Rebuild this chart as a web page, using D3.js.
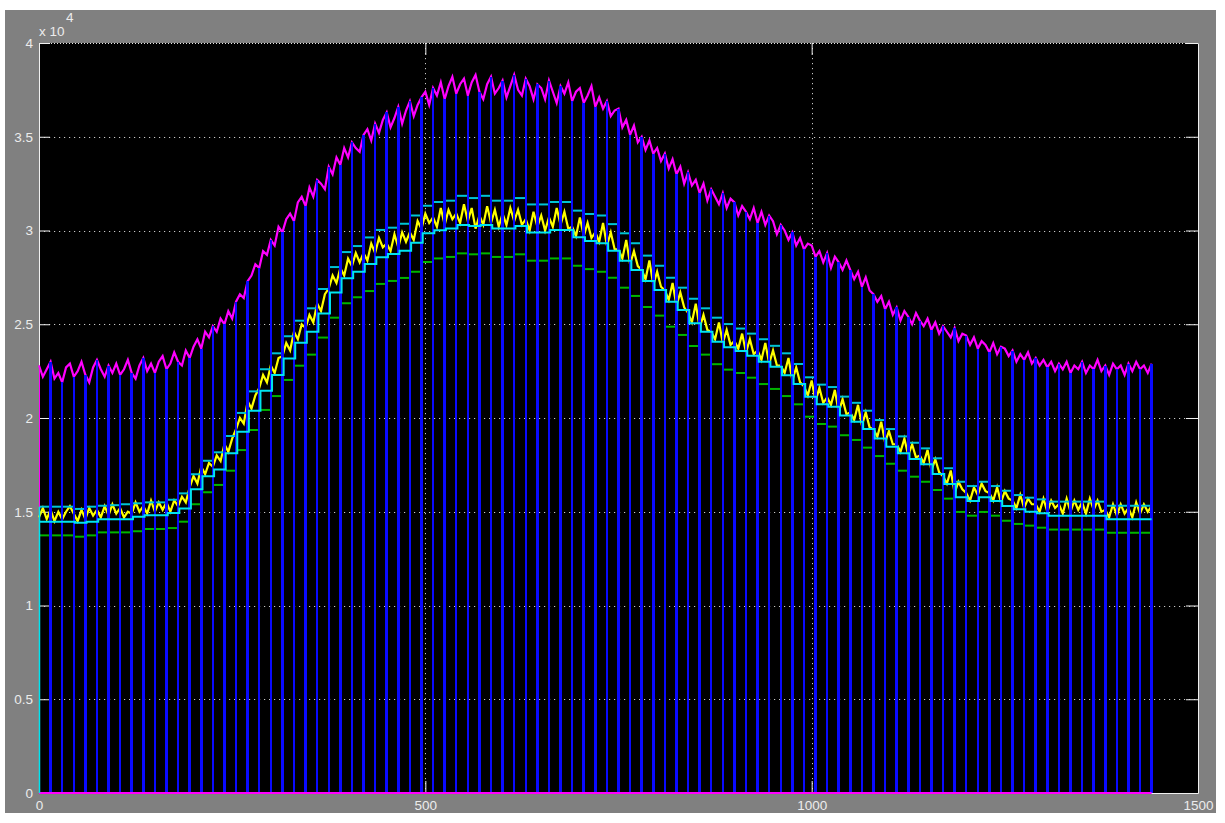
<!DOCTYPE html>
<html><head><meta charset="utf-8">
<script src="https://cdn.jsdelivr.net/npm/d3@7"></script>
<style>html,body{margin:0;padding:0;background:#fff;}svg{display:block;}</style>
</head><body>
<svg id="chart" width="1225" height="823"></svg>
<script>
// ---- data (values in hundreds; multiplied by VALUE_UNIT) ----
const VALUE_UNIT = 100;
const BIN_WIDTH = 15;      // x-units per step bin
const SAMPLE_STEP = 5;     // x-units between noisy samples
const xTicks = [0, 500, 1000, 1500];
const yTicks = [0, 0.5, 1, 1.5, 2, 2.5, 3, 3.5, 4];   // x 10^4
const yExponent = "4";

const lowerCyan = [144.7,144.7,144.7,144.2,144.7,146,146,146,147.4,148.1,
 148.1,149.3,151.8,162,169,172.6,181.2,192.7,203.9,214.6,
 222.9,231.8,240.2,246,255.8,267,274.5,278,282.1,285.7,
 287.5,289.2,293.5,298.5,300.1,301.1,302.9,302.4,302.9,301.1,
 301.1,302.4,299,299,300.3,300.3,296.4,294.4,293.2,289.2,
 283.9,278.9,273.1,268.3,262,257.6,250.5,246,240.7,237.7,
 235.8,233.2,230,227.4,222.8,218.1,211.4,207.3,206,201.4,
 198,194.1,189.1,184.7,181.2,178.1,175.3,170.1,164.8,157.7,
 155.7,157.7,155.7,153.1,151.3,150,149.2,147.9,147.9,147.9,
 147.9,147.9,146,146,146,146];

const upperCyan = [152.7,152.7,152.7,151.5,152.7,153.2,153.5,154,154.5,155,
 155,156.4,159.8,170,177.2,181.7,190.4,202.7,214.2,226,
 234.5,243.6,251.9,258.5,268.8,280.5,288.5,291.7,296.3,300.3,
 301.5,303.6,308,313.2,315.2,315.9,318.5,317.3,318.5,315.9,
 315.9,317.3,313.9,313.9,315.2,315.2,310.6,308.8,308,303.4,
 298.5,293.2,286.6,281.2,274.8,269.5,263.6,258.5,253.5,250.1,
 247.7,245,242,238.5,234.5,228.8,221.7,217.8,216.5,211.4,
 208.1,203.9,198.9,194.1,190.2,186.8,183.8,178.5,173.2,166,
 163.7,166,163.7,161.2,158.9,157.5,156.6,155.4,155.4,155.4,
 155.4,155.4,153.2,153.2,153.2,153.2];

const greenLevel = [137.4,137.4,137.4,136.7,137.4,139,139,139,139.6,140.8,
 140.8,141.3,144.7,154,160.4,164.3,171.9,182.9,193.6,204.3,
 211.7,220.3,227.9,233.8,242.9,253.5,261.2,264.4,267.7,271.5,
 273.1,274.7,278,283.2,285.1,285.9,287.8,287.3,287.8,285.9,
 285.9,287.3,283.9,283.9,285.1,285.1,281.2,279.4,278,274.8,
 269.5,265.1,259.2,254.6,248.7,244.3,238.4,233.8,228.7,225.8,
 224,221.5,218.1,215.5,211.7,207.3,200.7,196.8,195.4,190.8,
 188.3,184.2,179.7,175.6,171.9,168.7,166,161.6,157,149.9,
 147.9,149.9,147.9,145.2,143.5,142.6,141.5,140.5,140.5,140.5,
 140.5,140.5,138.8,138.8,138.8,138.8];

const magenta = [228,222,226,230,221,224,219,227,229,222,
 225,230,223,219,227,231,226,222,228,224,
 229,223,226,231,224,221,228,232,225,229,
 224,230,233,226,229,235,230,228,236,232,
 238,242,237,246,243,249,246,253,250,257,
 253,262,266,264,273,276,282,280,289,287,
 295,292,302,299,306,309,305,315,318,313,
 323,318,327,325,322,334,330,339,335,344,
 339,347,344,342,351,354,348,357,352,359,
 363,355,360,366,357,364,369,361,367,371,
 374,367,376,372,379,370,377,382,373,378,
 381,372,379,383,374,370,378,382,373,376,
 380,371,377,383,375,372,381,377,370,378,
 376,370,380,374,368,377,373,379,369,374,
 376,368,372,377,366,371,365,369,361,364,
 365,355,359,351,356,347,350,343,348,341,
 344,337,341,333,338,330,334,325,331,324,
 327,320,325,316,322,318,314,320,312,317,
 315,308,313,310,306,312,304,310,303,308,
 305,298,303,300,295,299,292,296,290,293,
 292,286,289,283,288,280,286,283,279,284,
 279,274,278,270,275,268,266,262,265,258,
 262,255,259,252,257,254,250,256,252,249,
 253,247,251,245,249,246,243,248,241,245,
 244,239,243,237,241,239,235,240,234,238,
 237,233,236,230,234,231,235,229,232,228,
 231,227,230,225,229,226,230,224,228,226,
 230,224,228,226,231,225,228,223,229,226,
 228,223,229,225,230,226,228,224,229];

const yellow = [147,152,146, 151,145,150, 146,150,153, 149,145,151,
 146,152,148, 151,147,153, 148,154,149, 152,147,150,
 149,155,150, 153,149,156, 150,155,151, 155,150,156,
 153,158,155, 163,169,165, 174,170,176, 174,180,177,
 186,182,189, 194,200,197, 209,205,212, 216,223,219,
 228,224,232, 233,240,236, 246,242,250, 248,255,251,
 261,257,266, 269,276,272, 280,276,285, 281,288,283,
 288,284,293, 288,296,291, 293,289,298, 291,299,294,
 299,295,305, 301,309,304, 307,302,312, 303,311,306,
 309,304,314, 305,312,301, 308,303,313, 304,311,302,
 309,303,312, 305,311,303, 306,300,310, 302,308,300,
 307,302,312, 303,310,301, 302,297,307, 297,304,296,
 299,294,304, 292,299,290, 290,285,295, 282,289,281,
 279,274,284, 271,278,270, 268,263,272, 260,267,259,
 256,251,261, 248,255,247, 246,242,251, 240,247,239,
 241,237,245, 235,242,234, 236,231,240, 229,236,228,
 228,224,232, 220,227,219, 217,212,220, 209,216,208,
 211,207,215, 203,210,202, 203,199,207, 196,203,195,
 194,190,198, 187,193,186, 186,182,189, 180,186,179,
 180,176,183, 172,178,171, 169,165,172, 160,166,162,
 160,156,163, 159,165,161, 160,156,163, 155,161,157,
 156,152,159, 152,157,154, 154,150,157, 150,156,152,
 154,149,157, 150,156,151, 155,149,157, 151,156,150,
 151,147,154, 148,154,149, 152,147,155, 149,154,150,
 153];

// ---- layout ----
const svg = d3.select("#chart");
const plot = {left: 39, right: 1198, top: 43, bottom: 793};
const x = d3.scaleLinear().domain([0, 1500]).range([plot.left, plot.right]);
const y = d3.scaleLinear().domain([0, 40000]).range([plot.bottom, plot.top]);
const FONT = "'Liberation Sans', Arial, sans-serif";

svg.append("rect").attr("x", 5).attr("y", 10).attr("width", 1211).attr("height", 803).attr("fill", "#808080");
svg.append("rect").attr("x", plot.left).attr("y", plot.top)
  .attr("width", plot.right - plot.left).attr("height", plot.bottom - plot.top).attr("fill", "#000");

// grid
const grid = svg.append("g").attr("stroke", "#c8c8c8").attr("stroke-width", 1).attr("stroke-dasharray", "1.2,3.8");
grid.selectAll("line.h").data(yTicks.filter(t => t > 0 && t < 4)).join("line")
  .attr("x1", plot.left).attr("x2", plot.right)
  .attr("y1", d => Math.round(y(d * 1e4)) + 0.5).attr("y2", d => Math.round(y(d * 1e4)) + 0.5);
grid.selectAll("line.v").data(xTicks.filter(t => t > 0 && t < 1500)).join("line")
  .attr("y1", plot.top).attr("y2", plot.bottom)
  .attr("x1", d => Math.round(x(d)) + 0.5).attr("x2", d => Math.round(x(d)) + 0.5);
svg.append("line").attr("x1", plot.left).attr("x2", plot.right).attr("y1", plot.top + 0.5).attr("y2", plot.top + 0.5)
  .attr("stroke", "#e8e8e8").attr("stroke-dasharray", "1,2");

// axes
function styleAxis(g) {
  g.selectAll(".domain").attr("stroke", "#f0f0f0");
  g.selectAll(".tick line").attr("stroke", "#f0f0f0");
  g.selectAll(".tick text").attr("fill", "#ececec").attr("font-family", FONT).attr("font-size", 13.5);
}
svg.append("g").attr("transform", `translate(0,${plot.bottom})`)
  .call(d3.axisBottom(x).tickValues(xTicks).tickSizeInner(-12).tickSizeOuter(0).tickPadding(7).tickFormat(d3.format("d")))
  .call(styleAxis);
svg.append("g").attr("transform", `translate(${plot.left},0)`)
  .call(d3.axisLeft(y).tickValues(yTicks.map(t => t * 1e4)).tickSizeInner(-11).tickSizeOuter(0).tickPadding(6).tickFormat(d => String(d / 1e4)))
  .call(styleAxis);
svg.append("g").attr("transform", `translate(${plot.right},0)`)
  .call(d3.axisRight(y).tickValues(yTicks.map(t => t * 1e4)).tickSizeInner(-12).tickSizeOuter(0).tickFormat(""))
  .call(styleAxis);
svg.append("g").attr("transform", `translate(0,${plot.top})`)
  .call(d3.axisTop(x).tickValues(xTicks.filter(t => t > 0 && t < 1500)).tickSizeInner(-12).tickSizeOuter(0).tickFormat(""))
  .call(g => g.select(".domain").remove())
  .call(styleAxis);

// exponent label
const expo = svg.append("text").attr("font-family", FONT).attr("fill", "#ececec").attr("font-size", 13.5);
expo.append("tspan").attr("x", 39).attr("y", 36).text("x 10");
expo.append("tspan").attr("x", 66).attr("y", 22).text(yExponent);

// ---- series ----
const V = v => y(v * VALUE_UNIT);
const noisyLine = d3.line().x((d, i) => x(i * SAMPLE_STEP)).y(d => V(d));

svg.append("path").datum(magenta).attr("d", noisyLine)
  .attr("fill", "none").attr("stroke", "#ff00ff").attr("stroke-width", 2.2);
svg.append("path").datum(yellow).attr("d", noisyLine)
  .attr("fill", "none").attr("stroke", "#ffff00").attr("stroke-width", 2.2);

svg.append("g").selectAll("line").data(upperCyan).join("line")
  .attr("x1", (d, i) => x(i * BIN_WIDTH)).attr("x2", (d, i) => x((i + 1) * BIN_WIDTH))
  .attr("y1", d => V(d)).attr("y2", d => V(d))
  .attr("stroke", "#00c4d4").attr("stroke-width", 2);
svg.append("g").selectAll("line").data(greenLevel).join("line")
  .attr("x1", (d, i) => x(i * BIN_WIDTH)).attr("x2", (d, i) => x((i + 1) * BIN_WIDTH))
  .attr("y1", d => V(d)).attr("y2", d => V(d))
  .attr("stroke", "#00b400").attr("stroke-width", 2);

// blue stems at each bin boundary, up to the magenta value there
const stemIdx = d3.range(1, lowerCyan.length + 1);
svg.append("g").attr("shape-rendering", "crispEdges").selectAll("line").data(stemIdx).join("line")
  .attr("x1", k => x(k * BIN_WIDTH)).attr("x2", k => x(k * BIN_WIDTH))
  .attr("y1", y(0)).attr("y2", k => V(magenta[k * BIN_WIDTH / SAMPLE_STEP]))
  .attr("stroke", "#0a0aff").attr("stroke-width", 2.5);

// lower cyan staircase
const lowerPts = lowerCyan.map((v, b) => ({xv: b * BIN_WIDTH + (b ? 1.6 : 0), v}));
lowerPts.push({xv: lowerCyan.length * BIN_WIDTH, v: lowerCyan[lowerCyan.length - 1]});
svg.append("path").datum(lowerPts)
  .attr("d", d3.line().curve(d3.curveStepAfter).x(d => x(d.xv)).y(d => V(d.v)))
  .attr("fill", "none").attr("stroke", "#00e4f0").attr("stroke-width", 2);

// zero line and start verticals
const endX = lowerCyan.length * BIN_WIDTH;
svg.append("line").attr("x1", x(0)).attr("x2", x(endX)).attr("y1", y(0)).attr("y2", y(0))
  .attr("stroke", "#ff00ff").attr("stroke-width", 2);
svg.append("line").attr("x1", x(0) + 0.5).attr("x2", x(0) + 0.5).attr("y1", y(0)).attr("y2", V(magenta[0]))
  .attr("stroke", "#ff00ff").attr("stroke-width", 1);
svg.append("line").attr("x1", x(0) + 0.5).attr("x2", x(0) + 0.5).attr("y1", y(0)).attr("y2", V(upperCyan[0]))
  .attr("stroke", "#00e4f0").attr("stroke-width", 1.5);
</script>
</body></html>
